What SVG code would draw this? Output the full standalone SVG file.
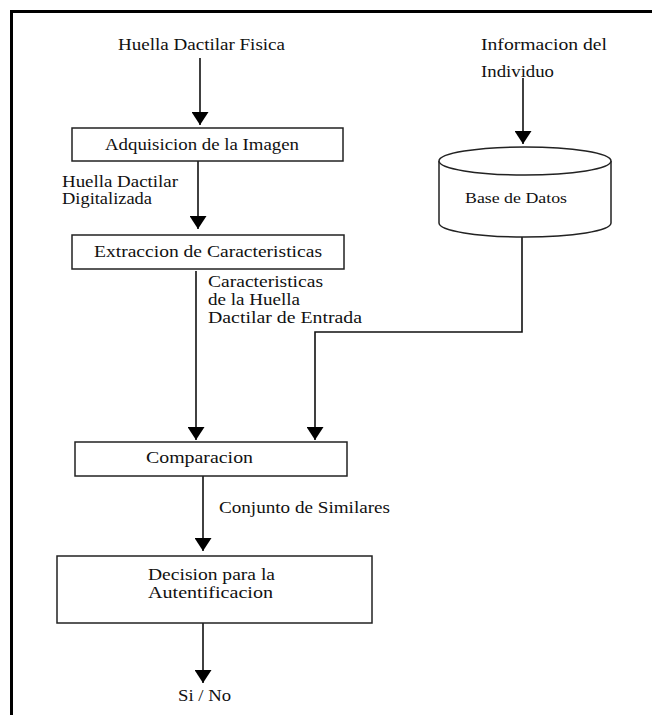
<svg xmlns="http://www.w3.org/2000/svg" width="652" height="715" viewBox="0 0 652 715">
  <style>
    .box { fill: #fff; stroke: #222; stroke-width: 1.5; }
    .wire { fill: none; stroke: #111; stroke-width: 1.6; }
    text { font-family: "Liberation Serif", "Times New Roman", serif; font-size: 16px; fill: #111; }
    .small { font-size: 15px; }
  </style>
  <defs>
    <marker id="head" markerUnits="userSpaceOnUse" viewBox="0 -8.5 13 17" refX="13" refY="0" markerWidth="13" markerHeight="17" orient="auto">
      <path d="M0,-8.5 L13,0 L0,8.5 z" fill="#000"/>
    </marker>
  </defs>

  <rect width="652" height="715" fill="#fff"/>
  <!-- outer frame -->
  <path d="M11.5,720 V11.5 H660" fill="none" stroke="#000" stroke-width="3"/>

  <g id="connectors" class="wire">
    <path d="M200,58 V125" marker-end="url(#head)"/>
    <path d="M198,161 V229" marker-end="url(#head)"/>
    <path d="M196,271 V440" marker-end="url(#head)"/>
    <path d="M522,237 V332 H315 V440" marker-end="url(#head)"/>
    <path d="M523,78 V144" marker-end="url(#head)"/>
    <path d="M203,476 V551" marker-end="url(#head)"/>
    <path d="M203,623 V683" marker-end="url(#head)"/>
  </g>

  <g id="label-input">
    <text x="118" y="50" textLength="167" lengthAdjust="spacingAndGlyphs">Huella Dactilar Fisica</text>
  </g>

  <g id="label-info">
    <text x="481" y="50" textLength="126" lengthAdjust="spacingAndGlyphs">Informacion del</text>
    <text x="481" y="77" textLength="73" lengthAdjust="spacingAndGlyphs">Individuo</text>
  </g>

  <g id="adquisicion">
    <rect class="box" x="72" y="128" width="271" height="33"/>
    <text x="105" y="150" textLength="194" lengthAdjust="spacingAndGlyphs">Adquisicion de la Imagen</text>
  </g>

  <g id="label-digitalizada">
    <text x="62" y="187" textLength="116" lengthAdjust="spacingAndGlyphs">Huella Dactilar</text>
    <text x="62" y="204" textLength="90" lengthAdjust="spacingAndGlyphs">Digitalizada</text>
  </g>

  <g id="base-datos">
    <path class="box" d="M439,161 A86,14 0 0 1 611,161 V223 A86,14 0 0 1 439,223 Z"/>
    <path class="box" d="M439,161 A86,14 0 0 0 611,161" fill="none"/>
    <text class="small" x="465" y="203" textLength="102" lengthAdjust="spacingAndGlyphs">Base de Datos</text>
  </g>

  <g id="extraccion">
    <rect class="box" x="72" y="235" width="272" height="34"/>
    <text x="94" y="257" textLength="228" lengthAdjust="spacingAndGlyphs">Extraccion de Caracteristicas</text>
  </g>

  <g id="label-caracteristicas">
    <text x="208" y="287" textLength="115" lengthAdjust="spacingAndGlyphs">Caracteristicas</text>
    <text x="208" y="305" textLength="92" lengthAdjust="spacingAndGlyphs">de la Huella</text>
    <text x="208" y="323" textLength="154" lengthAdjust="spacingAndGlyphs">Dactilar de Entrada</text>
  </g>

  <g id="comparacion">
    <rect class="box" x="75" y="442" width="272" height="34"/>
    <text x="146" y="463" textLength="107" lengthAdjust="spacingAndGlyphs">Comparacion</text>
  </g>

  <g id="label-similares">
    <text x="219" y="513" textLength="171" lengthAdjust="spacingAndGlyphs">Conjunto de Similares</text>
  </g>

  <g id="decision">
    <rect class="box" x="57" y="556" width="315" height="67"/>
    <text x="148" y="580" textLength="127" lengthAdjust="spacingAndGlyphs">Decision para la</text>
    <text x="148" y="598" textLength="125" lengthAdjust="spacingAndGlyphs">Autentificacion</text>
  </g>

  <g id="label-salida">
    <text x="178" y="701" textLength="53" lengthAdjust="spacingAndGlyphs">Si / No</text>
  </g>
</svg>
